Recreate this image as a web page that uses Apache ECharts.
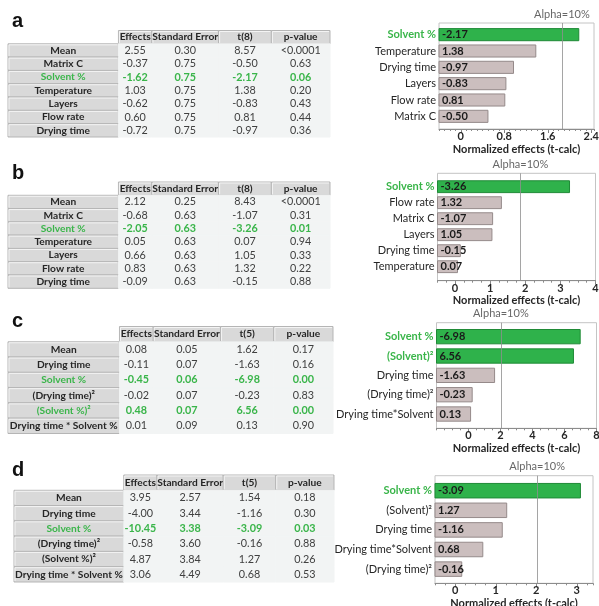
<!DOCTYPE html>
<html><head><meta charset="utf-8">
<script src="https://cdn.jsdelivr.net/npm/echarts@6/dist/echarts.min.js"></script>
<style>html,body{margin:0;padding:0;background:#fff}#c{width:599px;height:606px}</style>
</head><body><div id="c"></div>
<script>
// ---------------- DATA ----------------
// Panel a
const rowsA = ['Mean','Matrix C','Solvent %','Temperature','Layers','Flow rate','Drying time'];
const effA = [2.55,-0.37,-1.62,1.03,-0.62,0.60,-0.72];
const seA = [0.30,0.75,0.75,0.75,0.75,0.75,0.75];
const tA = [8.57,-0.50,-2.17,1.38,-0.83,0.81,-0.97];
const pA = ['<0.0001',0.63,0.06,0.20,0.43,0.44,0.36];
const headA = ['Effects','Standard Error','t(8)','p-value'];
const barNamesA = ['Solvent %','Temperature','Drying time','Layers','Flow rate','Matrix C'];
const barTA = [-2.17,1.38,-0.97,-0.83,0.81,-0.50];
const ticksA = [0,0.8,1.6,2.4];
const tCritA = 1.86;
// Panel b
const rowsB = ['Mean','Matrix C','Solvent %','Temperature','Layers','Flow rate','Drying time'];
const effB = [2.12,-0.68,-2.05,0.05,0.66,0.83,-0.09];
const seB = [0.25,0.63,0.63,0.63,0.63,0.63,0.63];
const tB = [8.43,-1.07,-3.26,0.07,1.05,1.32,-0.15];
const pB = ['<0.0001',0.31,0.01,0.94,0.33,0.22,0.88];
const headB = ['Effects','Standard Error','t(8)','p-value'];
const barNamesB = ['Solvent %','Flow rate','Matrix C','Layers','Drying time','Temperature'];
const barTB = [-3.26,1.32,-1.07,1.05,-0.15,0.07];
const ticksB = [0,1,2,3,4];
const tCritB = 1.86;
// Panel c
const rowsC = ['Mean','Drying time','Solvent %','(Drying time)²','(Solvent %)²','Drying time * Solvent %'];
const effC = [0.08,-0.11,-0.45,-0.02,0.48,0.01];
const seC = [0.05,0.07,0.06,0.07,0.07,0.09];
const tC = [1.62,-1.63,-6.98,-0.23,6.56,0.13];
const pC = [0.17,0.16,0.00,0.83,0.00,0.90];
const headC = ['Effects','Standard Error','t(5)','p-value'];
const barNamesC = ['Solvent %','(Solvent)²','Drying time','(Drying time)²','Drying time*Solvent'];
const barTC = [-6.98,6.56,-1.63,-0.23,0.13];
const ticksC = [0,2,4,6,8];
const tCritC = 2.015;
// Panel d
const rowsD = ['Mean','Drying time','Solvent %','(Drying time)²','(Solvent %)²','Drying time * Solvent %'];
const effD = [3.95,-4.00,-10.45,-0.58,4.87,3.06];
const seD = [2.57,3.44,3.38,3.60,3.84,4.49];
const tD = [1.54,-1.16,-3.09,-0.16,1.27,0.68];
const pD = [0.18,0.30,0.03,0.88,0.26,0.53];
const headD = ['Effects','Standard Error','t(5)','p-value'];
const barNamesD = ['Solvent %','(Solvent)²','Drying time','Drying time*Solvent','(Drying time)²'];
const barTD = [-3.09,1.27,-1.16,0.68,-0.16];
const ticksD = [0,1,2,3];
const tCritD = 2.015;
const alphaLevel = 0.10;

// ---------------- STYLE / LAYOUT ----------------
const FONT = 'Lato, "Open Sans", sans-serif';
const GREEN_TXT = '#3ab54a';
const colFrac = [0, 0.343, 0.447, 0.654, 0.818, 1];

const panels = [
  { letter:'a', letterY:23.5, rows:rowsA, eff:effA, se:seA, t:tA, p:pA, head:headA, barNames:barNamesA, barT:barTA, ticks:ticksA, crit:tCritA,
    table:{left:8, top:30.5, width:322, height:106.5}, outer:{left:439, top:23, width:155, height:106}, inner:{top:26.5, height:98},
    xmin:-0.4, xmax:2.45, minor:0.1 },
  { letter:'b', letterY:175.5, rows:rowsB, eff:effB, se:seB, t:tB, p:pB, head:headB, barNames:barNamesB, barT:barTB, ticks:ticksB, crit:tCritB,
    table:{left:8, top:182, width:322, height:106.3}, outer:{left:437.5, top:173.3, width:158, height:107.4}, inner:{top:178.7, height:96},
    xmin:-0.5, xmax:4.0, minor:0.25 },
  { letter:'c', letterY:323, rows:rowsC, eff:effC, se:seC, t:tC, p:pC, head:headC, barNames:barNamesC, barT:barTC, ticks:ticksC, crit:tCritC,
    table:{left:8, top:326.5, width:325, height:107}, outer:{left:436.5, top:322.7, width:160, height:105.6}, inner:{top:327, height:96.7},
    xmin:-2, xmax:8, minor:0.5 },
  { letter:'d', letterY:472.5, rows:rowsD, eff:effD, se:seD, t:tD, p:pD, head:headD, barNames:barNamesD, barT:barTD, ticks:ticksD, crit:tCritD,
    table:{left:14, top:475, width:320, height:107}, outer:{left:435, top:475.7, width:158, height:107.6}, inner:{top:480.9, height:98},
    xmin:-0.5, xmax:3.4, minor:0.25 }
];

function fmt(v){ return typeof v === 'number' ? v.toFixed(2) : v; }

const grids = [], xAxes = [], yAxes = [], series = [], graphics = [];

panels.forEach(P => {
  // ---- letter ----
  graphics.push({ type:'text', left:12, top:P.letterY - 12, style:{ text:P.letter, font:'bold 20px Arial, "Liberation Sans", sans-serif', fill:'#111' } });

  // ---- table ----
  const gT = grids.length;
  grids.push(Object.assign({ outerBoundsMode:'none', containLabel:false }, P.table));
  xAxes.push({ gridIndex:gT, type:'value', min:0, max:1, show:false });
  yAxes.push({ gridIndex:gT, type:'category', inverse:true, data:[''].concat(P.rows), show:false });
  const xiT = xAxes.length - 1, yiT = yAxes.length - 1;
  const cells = [];
  P.head.forEach((h, i) => cells.push({ col:i+1, row:0, text:h, kind:'head', hl:false }));
  P.rows.forEach((r, ri) => {
    const hl = typeof P.p[ri] === 'number' && P.p[ri] < alphaLevel && r !== 'Mean';
    const row = ri + 1;
    cells.push({ col:0, row, text:r, kind:'label', hl });
    cells.push({ col:1, row, text:fmt(P.eff[ri]), kind:'data', hl });
    cells.push({ col:2, row, text:fmt(P.se[ri]), kind:'data', hl });
    cells.push({ col:3, row, text:fmt(P.t[ri]), kind:'data', hl });
    cells.push({ col:4, row, text:fmt(P.p[ri]), kind:'data', hl });
  });
  series.push({
    type:'custom', xAxisIndex:xiT, yAxisIndex:yiT, silent:true,
    data: cells.map(c => [colFrac[c.col], c.row]),
    encode:{ x:0, y:1 },
    renderItem: function(params, api){
      const c = cells[params.dataIndex];
      const yc = api.coord([0, c.row])[1];
      const h = api.size([0, 1])[1];
      const x0 = api.coord([colFrac[c.col], c.row])[0];
      const x1 = api.coord([colFrac[c.col+1], c.row])[0];
      const top = yc - h/2;
      const ch = [];
      let color = '#404040', weight = 'normal';
      if (c.kind === 'head' || c.kind === 'label') {
        ch.push({ type:'rect', shape:{ x:x0, y:top, width:x1-x0, height:h }, style:{ fill:'#d9d9d9', stroke:'#b5b5b5', lineWidth:1 } });
        ch.push({ type:'polyline', shape:{ points:[[x0+1, top+h-1],[x0+1, top+1],[x1-1, top+1]] }, style:{ stroke:'#f4f4f4', lineWidth:1, fill:null } });
        color = '#262626'; weight = 'bold';
      } else {
        ch.push({ type:'rect', shape:{ x:x0, y:top, width:x1-x0, height:h }, style:{ fill:'#f2f4f4', stroke:'#f2f4f4', lineWidth:1 } });
      }
      if (c.hl) { color = GREEN_TXT; weight = 'bold'; }
      ch.push({ type:'text', style:{ text:c.text, x:(x0+x1)/2, y:yc, align:'center', verticalAlign:'middle',
        font: weight + ' ' + (c.kind === 'data' ? '10.8px ' : '10.2px ') + FONT, fill:color } });
      return { type:'group', children:ch };
    }
  });

  // ---- chart: outer box grid ----
  const gO = grids.length;
  grids.push({ outerBoundsMode:'none', containLabel:false, show:true, borderColor:'#c4c4c4', borderWidth:1, backgroundColor:'transparent',
    left:P.outer.left, top:P.outer.top, width:P.outer.width, height:P.outer.height });
  xAxes.push({ gridIndex:gO, type:'value', min:P.xmin, max:P.xmax, position:'bottom',
    name:'Normalized effects (t-calc)', nameLocation:'middle', nameGap:14.5,
    nameTextStyle:{ fontFamily:FONT, fontSize:11, fontWeight:'bold', color:'#262626' },
    axisLine:{ show:true, lineStyle:{ color:'#8c8c8c', width:1 } },
    axisTick:{ show:true, customValues:P.ticks, length:4, lineStyle:{ color:'#7f7f7f' } },
    axisLabel:{ show:true, customValues:P.ticks, margin:2, fontFamily:FONT, fontSize:11, fontWeight:'bold', color:'#262626',
      formatter: v => String(v) },
    splitLine:{ show:false } });
  const xiO = xAxes.length - 1;
  xAxes.push({ gridIndex:gO, type:'value', min:P.xmin, max:P.xmax, interval:P.minor, position:'bottom',
    axisLine:{ show:false }, axisLabel:{ show:false }, splitLine:{ show:false },
    axisTick:{ show:true, length:2, lineStyle:{ color:'#8c8c8c' } } });
  yAxes.push({ gridIndex:gO, type:'value', min:0, max:1, show:false });
  const yiO = yAxes.length - 1;
  series.push({
    type:'line', xAxisIndex:xiO, yAxisIndex:yiO, data:[], silent:true, z:5,
    markLine:{ silent:true, symbol:['none','none'], animation:false,
      lineStyle:{ color:'#8f8f8f', type:'solid', width:1, opacity:0.8 },
      label:{ show:true, position:'end', distance:3.5, formatter:'Alpha=10%', fontFamily:FONT, fontSize:11, color:'#404040' },
      data:[{ xAxis:P.crit }] }
  });

  // ---- chart: inner bars grid ----
  const gI = grids.length;
  grids.push({ outerBoundsMode:'none', containLabel:false, left:P.outer.left, width:P.outer.width, top:P.inner.top, height:P.inner.height });
  xAxes.push({ gridIndex:gI, type:'value', min:P.xmin, max:P.xmax, show:false });
  const hlSet = {};
  P.barNames.forEach((n, i) => { hlSet[n] = Math.abs(P.barT[i]) > P.crit; });
  yAxes.push({ gridIndex:gI, type:'category', inverse:true, data:P.barNames,
    axisLine:{ show:false }, axisTick:{ show:false }, splitLine:{ show:false },
    axisLabel:{ margin:3, fontFamily:FONT, fontSize:11,
      formatter: v => hlSet[v] ? '{g|' + v + '}' : '{n|' + v + '}',
      rich:{ g:{ color:GREEN_TXT, fontWeight:'bold', fontFamily:FONT, fontSize:11 }, n:{ color:'#262626', fontFamily:FONT, fontSize:11 } } } });
  const xiI = xAxes.length - 1, yiI = yAxes.length - 1;
  const xmin = P.xmin;
  const barT = P.barT, crit = P.crit;
  series.push({
    type:'custom', xAxisIndex:xiI, yAxisIndex:yiI, silent:true, z:3,
    data: barT.map((t, i) => [Math.abs(t), i]),
    encode:{ x:0, y:1 },
    renderItem: function(params, api){
      const i = params.dataIndex;
      const t = barT[i];
      const s = api.coord([xmin, i]);
      const e = api.coord([Math.abs(t), i]);
      const h = api.size([0, 1])[1] * 0.74;
      const hl = Math.abs(t) > crit;
      return { type:'group', children:[
        { type:'rect', shape:{ x:s[0], y:s[1]-h/2, width:e[0]-s[0], height:h },
          style:{ fill: hl ? '#2fb24b' : '#cbbebe', stroke: hl ? '#1f8a36' : '#958a8a', lineWidth:1 } },
        { type:'text', style:{ text:t.toFixed(2), x:s[0]+3, y:s[1], align:'left', verticalAlign:'middle',
          font:'bold 11px ' + FONT, fill:'#1a1a1a' } }
      ]};
    }
  });
});

const chart = echarts.init(document.getElementById('c'), null, { renderer:'canvas' });
chart.setOption({
  animation:false,
  backgroundColor:'#ffffff',
  textStyle:{ fontFamily:FONT },
  grid:grids, xAxis:xAxes, yAxis:yAxes, series:series,
  graphic:graphics
});
</script>
</body></html>
